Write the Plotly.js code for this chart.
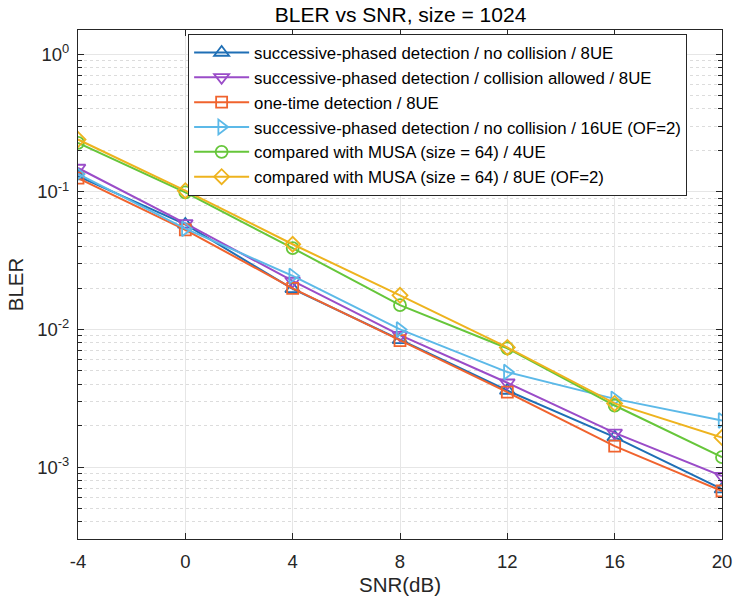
<!DOCTYPE html>
<html>
<head>
<meta charset="utf-8">
<script src="https://cdn.plot.ly/plotly-3.0.1.min.js"></script>
<style>html,body{margin:0;padding:0;background:#fff;}#chart{width:735px;height:603px;}</style>
</head>
<body>
<div id="chart"></div>
<script>
var snr = [-4, 0, 4, 8, 12, 16, 20];
var seriesNames = [
  "successive-phased detection / no collision / 8UE",
  "successive-phased detection / collision allowed / 8UE",
  "one-time detection / 8UE",
  "successive-phased detection / no collision / 16UE (OF=2)",
  "compared with MUSA (size = 64) / 4UE",
  "compared with MUSA (size = 64) / 8UE (OF=2)"
];
var spNoColl8 = [0.130, 0.058, 0.0197, 0.0084, 0.0036, 0.00165, 0.00069];
var spColl8   = [0.149, 0.059, 0.0225, 0.0091, 0.0041, 0.00177, 0.00086];
var oneTime8  = [0.126, 0.053, 0.0199, 0.0083, 0.0035, 0.00142, 0.00067];
var spNoColl16= [0.135, 0.054, 0.0245, 0.0100, 0.0049, 0.00313, 0.00218];
var musa4     = [0.227, 0.099, 0.0390, 0.0150, 0.0073, 0.00280, 0.00118];
var musa8     = [0.240, 0.102, 0.0416, 0.0177, 0.0074, 0.00290, 0.00164];
var yTickVals = [1, 0.1, 0.01, 0.001];
var yTickText = ["10<sup>0</sup>", "10<sup>-1</sup>", "10<sup>-2</sup>", "10<sup>-3</sup>"];
var xTickVals = [-4, 0, 4, 8, 12, 16, 20];

var allY = [spNoColl8, spColl8, oneTime8, spNoColl16, musa4, musa8];
var colors = ["#1f6fb5", "#9a4cc8", "#f0632e", "#5cb9e8", "#66c63a", "#eeb31e"];
var symbols = ["triangle-up-open", "triangle-down-open", "square-open", "triangle-right-open", "circle-open", "diamond-open"];
var sizes = [13, 13, 11, 13, 12, 11.5];

var traces = allY.map(function (ys, i) {
  return {
    x: snr, y: ys, name: seriesNames[i], type: "scatter", mode: "lines+markers",
    line: {color: colors[i], width: 2},
    marker: {symbol: symbols[i], size: sizes[i], color: colors[i], line: {color: colors[i], width: 1.8}}
  };
});

var fam = "Liberation Sans, Arial, sans-serif";
var axisFont = {family: fam, size: 18.5, color: "#262626"};
var minorVals = [];
[1e-4, 1e-3, 1e-2, 1e-1, 1].forEach(function (d) { for (var k = 2; k <= 9; k++) minorVals.push(k * d); });
var layout = {
  width: 735, height: 603,
  margin: {l: 78, r: 13, t: 30, b: 64},
  paper_bgcolor: "#fff", plot_bgcolor: "#fff",
  font: {family: fam, color: "#262626"},
  title: {text: "BLER vs SNR, size = 1024", font: {size: 21, color: "#000"}, x: 0.545, xanchor: "center", y: 0.988, yanchor: "top", yref: "container"},
  showlegend: true,
  legend: {x: 0.171, xanchor: "left", y: 0.992, yanchor: "top", bgcolor: "#fff", bordercolor: "#262626", borderwidth: 1,
           font: {family: fam, size: 16.8, color: "#000"}, tracegroupgap: 0, itemwidth: 55},
  xaxis: {
    range: [-4, 20], tickvals: xTickVals, ticktext: xTickVals.map(String),
    title: {text: "SNR(dB)", font: {size: 20.5, color: "#262626"}, standoff: 6},
    tickfont: axisFont, ticks: "inside", ticklen: 6, tickcolor: "#262626", ticklabelstandoff: 6,
    showline: true, linecolor: "#262626", linewidth: 1, mirror: "allticks",
    showgrid: true, gridcolor: "#e6e6e6", gridwidth: 1, zeroline: false
  },
  yaxis: {
    type: "log", range: [Math.log10(3e-4), Math.log10(1.5)],
    tickvals: yTickVals, ticktext: yTickText,
    title: {text: "BLER", font: {size: 20.5, color: "#262626"}, standoff: 8},
    tickfont: axisFont, ticks: "inside", ticklen: 6, tickcolor: "#262626", ticklabelstandoff: 4,
    showline: true, linecolor: "#262626", linewidth: 1, mirror: "allticks",
    showgrid: true, gridcolor: "#e6e6e6", gridwidth: 1, zeroline: false,
    minor: {ticks: "inside", ticklen: 4, tickcolor: "#262626", showgrid: true, gridcolor: "#dcdcdc", griddash: "dot", gridwidth: 1,
            tickvals: minorVals}
  }
};
Plotly.newPlot("chart", traces, layout, {displayModeBar: false, staticPlot: true});
</script>
</body>
</html>
